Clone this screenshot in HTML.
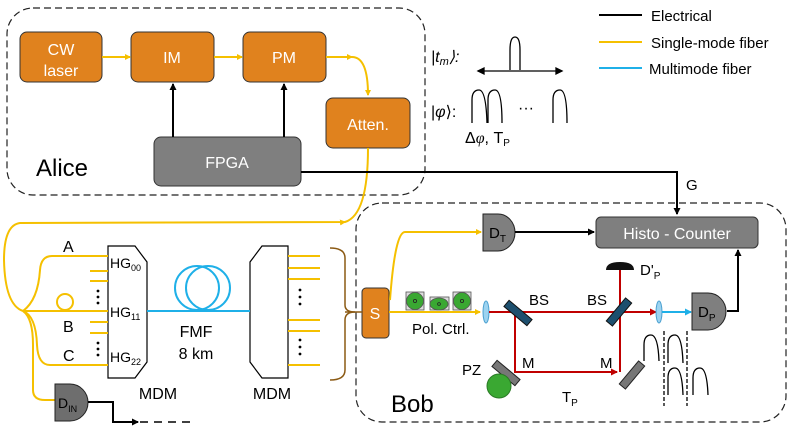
<!DOCTYPE html>
<html><head><meta charset="utf-8"><style>html,body{margin:0;padding:0;background:#fff;width:797px;height:431px;overflow:hidden}svg{display:block}text{font-family:"Liberation Sans",sans-serif}</style></head><body>
<svg width="797" height="431" viewBox="0 0 797 431" xmlns="http://www.w3.org/2000/svg">
<defs>
<marker id="ay" markerWidth="6" markerHeight="6" refX="5" refY="3" orient="auto" markerUnits="userSpaceOnUse"><path d="M0,0L6,3L0,6z" fill="#f5c000"/></marker>
<marker id="ak" markerWidth="7" markerHeight="7" refX="6" refY="3.5" orient="auto" markerUnits="userSpaceOnUse"><path d="M0,0L7,3.5L0,7z" fill="#000"/></marker>
<marker id="ar" markerWidth="7" markerHeight="7" refX="6" refY="3.5" orient="auto" markerUnits="userSpaceOnUse"><path d="M0,0L7,3.5L0,7z" fill="#c00000"/></marker>
<marker id="ab" markerWidth="7" markerHeight="7" refX="6" refY="3.5" orient="auto" markerUnits="userSpaceOnUse"><path d="M0,0L7,3.5L0,7z" fill="#1fb0e8"/></marker>
</defs>
<!-- Alice -->
<rect x="7" y="8" width="418" height="187" rx="26" fill="none" stroke="#222" stroke-dasharray="7,4" stroke-width="1.2"/>
<g fill="#e0821e" stroke="#333" stroke-width="1">
<rect x="20" y="32" width="82" height="50" rx="7"/><rect x="131" y="32" width="83" height="50" rx="7"/><rect x="243" y="32" width="83" height="50" rx="7"/><rect x="326" y="98" width="84" height="50" rx="7"/>
</g>
<rect x="154" y="137" width="147" height="49" rx="7" fill="#7f7f7f" stroke="#333"/>
<g fill="#fff" font-size="16" text-anchor="middle">
<text x="61" y="55">CW</text><text x="61" y="76">laser</text><text x="172" y="63">IM</text><text x="284" y="63">PM</text><text x="368" y="130">Atten.</text><text x="227" y="168">FPGA</text>
</g>
<text x="36" y="176" font-size="24">Alice</text>
<g stroke="#f5c000" stroke-width="2" fill="none">
<line x1="102" y1="57" x2="130" y2="57" marker-end="url(#ay)"/>
<line x1="214" y1="57" x2="242" y2="57" marker-end="url(#ay)"/>
<path d="M326,57 H352" marker-end="url(#ay)"/>
<path d="M352,57 Q368,57 368,95" marker-end="url(#ay)"/>
<path d="M368,148 Q368,215 345,222 L20,223 Q4,225 4,260 Q5,305 23,311"/>
<path d="M340,222.5 L345,222" marker-end="url(#ay)"/>
</g>
<g stroke="#000" stroke-width="2" fill="none">
<line x1="173" y1="137" x2="173" y2="84" marker-end="url(#ak)"/>
<line x1="284" y1="137" x2="284" y2="84" marker-end="url(#ak)"/>
<path d="M301,172 H677 V214" marker-end="url(#ak)"/>
</g>
<text x="686" y="190" font-size="15">G</text>
<!-- legend -->
<line x1="599" y1="15" x2="642" y2="15" stroke="#000" stroke-width="2"/><text x="651" y="21" font-size="15">Electrical</text>
<line x1="599" y1="42" x2="642" y2="42" stroke="#f5c000" stroke-width="2"/><text x="651" y="48" font-size="15">Single-mode fiber</text>
<line x1="599" y1="68" x2="642" y2="68" stroke="#1fb0e8" stroke-width="2"/><text x="649" y="74" font-size="15">Multimode fiber</text>
<!-- states -->
<text x="431" y="62" font-size="16" font-style="italic" font-family="Liberation Serif">|t<tspan font-size="11" dy="3">m</tspan><tspan dy="-3">⟩:</tspan></text>
<g stroke="#000" stroke-width="1.3" fill="none">
<path d="M510,70 V50 Q510,37 515,37 Q520,37 520,50 V70"/>
<line x1="478" y1="71" x2="562" y2="71"/><path d="M478,71 l6,-3 v6z M562,71 l-6,-3 v6z" fill="#000"/>
<path d="M472,123 V100 Q472,90 479,90 Q486,90 487,123"/><path d="M488,123 V100 Q488,90 495,90 Q502,90 502,123"/><path d="M553,123 V100 Q553,90 560,90 Q567,90 567,123"/>
</g>
<text x="431" y="117" font-size="16" font-family="Liberation Serif">|<tspan font-style="italic">φ</tspan>⟩:</text>
<text x="518" y="113" font-size="16">···</text>
<text x="465" y="143" font-size="16">Δ<tspan font-style="italic" font-family="Liberation Serif">φ</tspan>, T<tspan font-size="10" dy="3">P</tspan></text>
<!-- Bob -->
<rect x="356" y="203" width="430" height="219" rx="26" fill="none" stroke="#222" stroke-dasharray="7,4" stroke-width="1.2"/>
<rect x="596" y="217" width="162" height="31" rx="5" fill="#7f7f7f" stroke="#333"/>
<text x="677" y="239" font-size="16" fill="#fff" text-anchor="middle">Histo - Counter</text>
<path d="M483,214 H498 A17,18.5 0 0 1 498,251 H483 Z" fill="#7f7f7f" stroke="#222"/>
<text x="489" y="238" font-size="15">D<tspan font-size="10" dy="4">T</tspan></text>
<line x1="515" y1="232" x2="594" y2="232" stroke="#000" stroke-width="2" marker-end="url(#ak)"/>
<rect x="362" y="288" width="27" height="50" rx="4" fill="#e0821e" stroke="#333"/>
<text x="375" y="319" font-size="16" fill="#fff" text-anchor="middle">S</text>
<path d="M390,300 Q395,232 405,232 H481" stroke="#f5c000" stroke-width="2" fill="none" marker-end="url(#ay)"/>
<line x1="389" y1="312" x2="480" y2="312" stroke="#f5c000" stroke-width="2" marker-end="url(#ay)"/>
<g stroke="#555" stroke-width="0.8">
<rect x="406" y="292" width="18" height="18" fill="#ddd"/><circle cx="415" cy="301" r="8.5" fill="#3aa832"/><circle cx="415" cy="301" r="1.6" fill="none" stroke="#222"/>
<rect x="430" y="297" width="19" height="13" fill="#ddd"/><ellipse cx="439" cy="304" rx="9" ry="6" fill="#3aa832"/><circle cx="439" cy="304" r="1.4" fill="none" stroke="#222"/>
<rect x="453" y="292" width="18" height="18" fill="#ddd"/><circle cx="462" cy="301" r="8.5" fill="#3aa832"/><circle cx="462" cy="301" r="1.6" fill="none" stroke="#222"/>
</g>
<text x="412" y="334" font-size="15">Pol. Ctrl.</text>
<ellipse cx="486" cy="312" rx="3" ry="11" fill="#9dd3f0" stroke="#4aa0d0"/>
<g stroke="#c00000" stroke-width="2" fill="none">
<line x1="489" y1="312" x2="656" y2="312" marker-end="url(#ar)"/>
<path d="M515,312 V372 H617" marker-end="url(#ar)"/>
<path d="M620,372 V270"/>
</g>
<rect x="-15" y="-4" width="30" height="8" fill="#1d4f6e" stroke="#111" transform="translate(518,313) rotate(40)"/>
<rect x="-15" y="-4" width="30" height="8" fill="#1d4f6e" stroke="#111" transform="translate(619,312) rotate(-50)"/>
<rect x="-15" y="-4" width="30" height="8" fill="#777" stroke="#222" transform="translate(506,373) rotate(40)"/>
<rect x="-15" y="-4" width="30" height="8" fill="#777" stroke="#222" transform="translate(632,375) rotate(-50)"/>
<path d="M606,270 Q606,262 620,262 Q634,262 634,270 Z" fill="#111"/>
<text x="640" y="275" font-size="15">D'<tspan font-size="10" dy="4">P</tspan></text>
<circle cx="499" cy="386" r="12" fill="#3aa832" stroke="#2a7a25"/>
<g font-size="15"><text x="529" y="305">BS</text><text x="587" y="305">BS</text><text x="462" y="375">PZ</text><text x="522" y="368">M</text><text x="600" y="368">M</text><text x="562" y="402">T<tspan font-size="10" dy="4">P</tspan></text></g>
<text x="391" y="412" font-size="24">Bob</text>
<ellipse cx="659" cy="312" rx="3" ry="11" fill="#9dd3f0" stroke="#4aa0d0"/>
<line x1="662" y1="312" x2="691" y2="312" stroke="#1fb0e8" stroke-width="2" marker-end="url(#ab)"/>
<path d="M692,293 H708 A18,18.5 0 0 1 708,330 H692 Z" fill="#7f7f7f" stroke="#222"/>
<text x="698" y="317" font-size="15">D<tspan font-size="10" dy="4">P</tspan></text>
<path d="M727,311 H738 V250" stroke="#000" stroke-width="2" fill="none" marker-end="url(#ak)"/>
<g stroke="#000" stroke-width="1.3" fill="none">
<path d="M644,361 V345 Q644,335 651,335 Q658,335 659,361"/><path d="M668,363 V345 Q668,335 675,335 Q682,335 683,363"/>
<path d="M668,395 V378 Q668,368 675,368 Q682,368 683,395"/><path d="M693,395 V378 Q693,368 700,368 Q707,368 708,395"/>
<line x1="664" y1="331" x2="664" y2="406" stroke-dasharray="4,2"/><line x1="687" y1="331" x2="687" y2="406" stroke-dasharray="4,2"/>
</g>
<!-- brace -->
<path d="M330,248 Q345,248 345,258 V305 Q345,312 355,312 Q345,312 345,320 V370 Q345,380 330,380" stroke="#8b5a14" stroke-width="1.5" fill="none"/>
<line x1="345" y1="312" x2="362" y2="312" stroke="#8b5a14" stroke-width="1.5"/>
<!-- MDMs -->
<path d="M108,246 H135 L147,262 V362 L135,378 H108 Z" fill="#fff" stroke="#000" stroke-width="1.2"/>
<path d="M262,246 H288 V378 H262 L250,362 V262 Z" fill="#fff" stroke="#000" stroke-width="1.2"/>
<g font-size="14"><text x="110" y="268">HG<tspan font-size="9" dy="3">00</tspan></text><text x="110" y="317">HG<tspan font-size="9" dy="3">11</tspan></text><text x="110" y="362">HG<tspan font-size="9" dy="3">22</tspan></text></g>
<line x1="147" y1="311" x2="250" y2="311" stroke="#1fb0e8" stroke-width="2"/>
<circle cx="197" cy="288" r="22" fill="none" stroke="#1fb0e8" stroke-width="2"/>
<circle cx="208" cy="288" r="22" fill="none" stroke="#1fb0e8" stroke-width="2"/>
<g font-size="16" text-anchor="middle"><text x="196" y="337">FMF</text><text x="196" y="359">8 km</text><text x="158" y="399">MDM</text><text x="272" y="399">MDM</text></g>
<g font-size="16"><text x="63" y="252">A</text><text x="63" y="332">B</text><text x="63" y="361">C</text></g>
<g stroke="#f5c000" stroke-width="2" fill="none">
<path d="M23,311 Q38,300 40,270 Q41,256 52,256 H108"/>
<path d="M23,311 H108"/>
<path d="M23,311 Q36,316 37,345 Q38,365 50,365 H108"/>
<path d="M23,311 Q33,318 33,345 V390 Q33,400 45,400 H55"/>
<circle cx="65" cy="302" r="8"/>
<line x1="90" y1="271" x2="108" y2="271"/><line x1="90" y1="281" x2="108" y2="281"/><line x1="90" y1="322" x2="108" y2="322"/><line x1="90" y1="333" x2="108" y2="333"/>
<line x1="288" y1="256" x2="320" y2="256"/><line x1="288" y1="268" x2="320" y2="268"/><line x1="288" y1="279" x2="320" y2="279"/><line x1="288" y1="320" x2="320" y2="320"/><line x1="288" y1="331" x2="320" y2="331"/><line x1="288" y1="365" x2="320" y2="365"/>
</g>
<g fill="#000"><circle cx="98" cy="291" r="1.4"/><circle cx="98" cy="297" r="1.4"/><circle cx="98" cy="303" r="1.4"/><circle cx="98" cy="343" r="1.4"/><circle cx="98" cy="349" r="1.4"/><circle cx="98" cy="355" r="1.4"/>
<circle cx="300" cy="290" r="1.4"/><circle cx="300" cy="297" r="1.4"/><circle cx="300" cy="304" r="1.4"/><circle cx="300" cy="340" r="1.4"/><circle cx="300" cy="347" r="1.4"/><circle cx="300" cy="354" r="1.4"/></g>
<path d="M55,384 H70 A18,18.5 0 0 1 70,421 H55 Z" fill="#6e6e6e" stroke="#222"/>
<text x="58" y="408" font-size="14">D<tspan font-size="9" dy="4">IN</tspan></text>
<path d="M88,402 H113 V422 H138" stroke="#000" stroke-width="2" fill="none" marker-end="url(#ak)"/>
<line x1="140" y1="422" x2="190" y2="422" stroke="#000" stroke-width="1.5" stroke-dasharray="8,6"/>
</svg>
</body></html>
